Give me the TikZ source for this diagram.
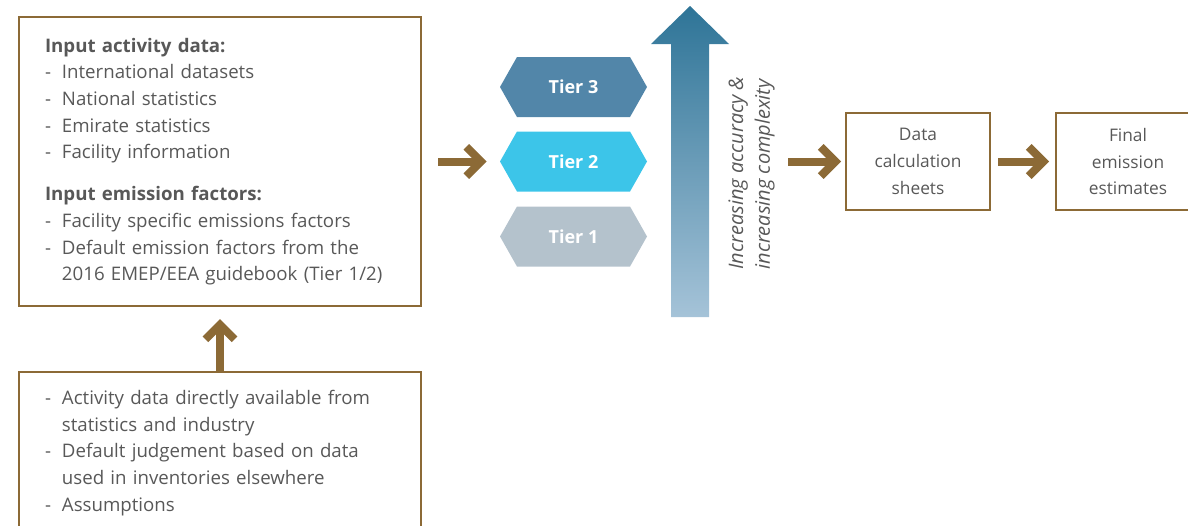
\documentclass[tikz,border=0pt]{standalone}
\usepackage{fontspec}
\setmainfont{Open Sans}
\usetikzlibrary{arrows.meta,shapes.symbols}

\definecolor{boxbrown}{HTML}{8C6A36}
\definecolor{textgrey}{HTML}{585858}
\definecolor{tierthree}{HTML}{5286A9}
\definecolor{tiertwo}{HTML}{3CC5E9}
\definecolor{tierone}{HTML}{B4C2CC}
\definecolor{arrowtop}{HTML}{2E7497}
\definecolor{arrowbottom}{HTML}{A5C3D8}

\newcommand{\dashitem}[1]{\makebox[12.75pt][l]{-}#1}
\newcommand{\dashcont}[1]{\hspace*{12.75pt}#1}

\tikzset{
    inbox/.style={draw=boxbrown, line width=1.5pt, text=textgrey, inner sep=0pt,
        font=\fontsize{14}{20}\selectfont},
    listbox/.style={inbox, minimum width=301.5pt, text width=262.5pt, align=left},
    stepbox/.style={inbox, minimum width=108pt, minimum height=72.75pt, align=center,
        font=\fontsize{13}{20}\selectfont},
    tierbox/.style={signal, signal to=west and east, signal pointer angle=121,
        minimum width=110.25pt, minimum height=45pt, inner sep=0pt, text=white,
        font=\bfseries\fontsize{13.5}{14}\selectfont},
    flow/.style={draw=boxbrown, line width=6pt, -{Straight Barb[length=11pt,width=22pt]}},
}

\begin{document}
\begin{tikzpicture}[x=0.75pt, y=-0.75pt]

    % Frame of the picture
    \useasboundingbox (0,0) rectangle (1188,525);
    \clip (0,0) rectangle (1188,525);

    % Input data box
    \node[listbox, minimum height=216.75pt] (inputs) at (220,161.5) {%
        \textbf{Input activity data:}\\
        \dashitem{International datasets}\\
        \dashitem{National statistics}\\
        \dashitem{Emirate statistics}\\
        \dashitem{Facility information}\\[11.5pt]
        \textbf{Input emission factors:}\\
        \dashitem{Facility specific emissions factors}\\
        \dashitem{Default emission factors from the}\\
        \dashcont{2016 EMEP/EEA guidebook (Tier 1/2)}};

    % Data sources box (runs off the bottom)
    \node[listbox, minimum height=121.5pt] (sources) at (220,453) {%
        \dashitem{Activity data directly available from}\\
        \dashcont{statistics and industry}\\
        \dashitem{Default judgement based on data}\\
        \dashcont{used in inventories elsewhere}\\
        \dashitem{Assumptions}};

    % Tiers
    \node[tierbox, fill=tierthree] (tier3) at (573.5,87) {Tier 3};
    \node[tierbox, fill=tiertwo] (tier2) at (573.5,161.5) {Tier 2};
    \node[tierbox, fill=tierone] (tier1) at (573.5,236.5) {Tier 1};

    % Big shaded arrow
    \shade[top color=arrowtop, bottom color=arrowbottom]
        (671,317) -- (671,44) -- (651,44) -- (690,6) -- (729,44)
        -- (709,44) -- (709,317) -- cycle;
    \node[rotate=90, align=left, text=textgrey,
        font=\itshape\fontsize{15}{20}\selectfont] (accuracy) at (751.5,173)
        {Increasing accuracy \&\\increasing complexity};

    % Output boxes
    \node[stepbox] (calc) at (918,161.5) {Data\\calculation\\sheets};
    \node[stepbox] (final) at (1128,161.5) {Final\\emission\\estimates};
    \coordinate (calcin) at (788,161.5);

    % Connectors
    \draw[flow, shorten <=12pt, shorten >=9.75pt] (inputs.east) -- (tier2.west);
    \draw[flow, shorten >=3pt] (calcin) -- (calc.west);
    \draw[flow, shorten <=5.25pt, shorten >=4.5pt] (calc.east) -- (final.west);
    \draw[flow, shorten >=9pt] (sources.north) -- (inputs.south);

\end{tikzpicture}
\end{document}
